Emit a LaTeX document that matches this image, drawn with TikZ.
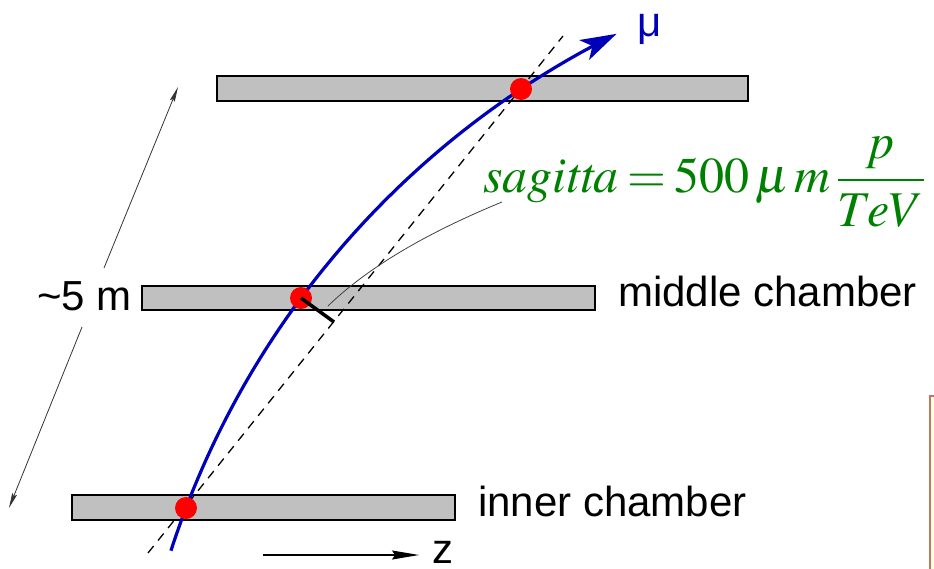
\documentclass[tikz,border=0pt]{standalone}
\usepackage{mathptmx}
\usepackage[no-math]{fontspec}
\setsansfont{Liberation Sans}
\usetikzlibrary{arrows.meta}
\definecolor{trackblue}{RGB}{0,0,185}
\definecolor{formgreen}{RGB}{0,128,0}
\definecolor{chambergray}{RGB}{192,192,192}
\definecolor{boxbrown}{RGB}{190,120,100}
\definecolor{boxyellow}{RGB}{255,255,225}
\tikzset{
  chamber/.style={draw=black, fill=chambergray, line width=1.4pt, inner sep=0pt, rectangle},
  hit/.style={circle, fill=red, draw=none, minimum size=22pt, inner sep=0pt},
  track/.style={draw=trackblue, line width=3.2pt, -{Stealth[length=36pt,width=22pt,inset=9pt]}},
  straightfit/.style={draw=black, line width=1.3pt, dash pattern=on 9pt off 7pt},
  sagline/.style={draw=black, line width=3.5pt},
  pointer/.style={draw=black!75, line width=0.8pt},
  dimline/.style={draw=black!80, line width=0.8pt, -{Stealth[length=15pt,width=5pt,inset=2pt]}},
  zarrow/.style={draw=black, line width=1.2pt, -{Stealth[length=27pt,width=9pt,inset=3pt]}},
  lbl/.style={font=\sffamily\fontsize{42}{50}\selectfont, inner sep=0pt, anchor=base west}
}
\begin{document}
\begin{tikzpicture}[x=1pt,y=-1pt]
\path[use as bounding box] (0,0) rectangle (934,568);
\begin{scope}
  \clip (0,0) rectangle (934,568);
  \fill[boxyellow, draw=boxbrown, line width=2pt] (930,396) rectangle (960,600);
\end{scope}

% chambers
\node[chamber, minimum width=531pt, minimum height=25pt] (topch) at (482.5,88.5) {};
\node[chamber, minimum width=453pt, minimum height=24pt] (midch) at (368.5,298) {};
\node[chamber, minimum width=383pt, minimum height=25pt] (innch) at (263.5,507.5) {};

% labels
\node[lbl] (midlabel) at (618,306) {middle chamber};
\node[lbl] (innlabel) at (478,516) {inner chamber};
\node[lbl] (dimlabel) at (37,310) {\textasciitilde5 m};
\node[lbl] (zlabel) at (432,563) {z};
\node[lbl, text=trackblue] (mulabel) at (637,36) {μ};

% straight line through inner and outer hits
\coordinate (fitlo) at (148,553);
\coordinate (fithi) at (563,36);
\draw[straightfit] (fitlo) -- (fithi);

% muon track (circular arc)
\draw[track] plot[domain=197.93:243.6, samples=90, variable=\t]
  ({1007.5+879.3*cos(\t)},{821.4+879.3*sin(\t)});

% hits
\node[hit] (hittop) at (521,89) {};
\node[hit] (hitmid) at (301,298) {};
\node[hit] (hitinn) at (186,508) {};

% sagitta
\coordinate (sagfoot) at (334,322);
\draw[sagline] (hitmid.center) -- (sagfoot);

% pointer from formula
\coordinate (pstart) at (502,202);
\coordinate (pend) at (328,306);
\draw[pointer] (pstart) .. controls (424,234) and (366,269) .. (pend);

% formula
\node[anchor=base west, inner sep=0pt, text=formgreen, font=\fontsize{50}{60}\selectfont] (formula) at (483,192)
  {$\mathit{sagitta}\mskip3mu{=}\mskip3mu 500\,\mu\, m\,\displaystyle\frac{p}{TeV}$};

% dimension arrow
\coordinate (dimup) at (104,268);
\coordinate (dimtop) at (178,87);
\coordinate (dimlo) at (82,327);
\coordinate (dimbot) at (9,508);
\draw[dimline] (dimup) -- (dimtop);
\draw[dimline] (dimlo) -- (dimbot);

% z axis arrow
\coordinate (zs) at (263,555);
\coordinate (ze) at (419,555);
\draw[zarrow] (zs) -- (ze);
\end{tikzpicture}
\end{document}
